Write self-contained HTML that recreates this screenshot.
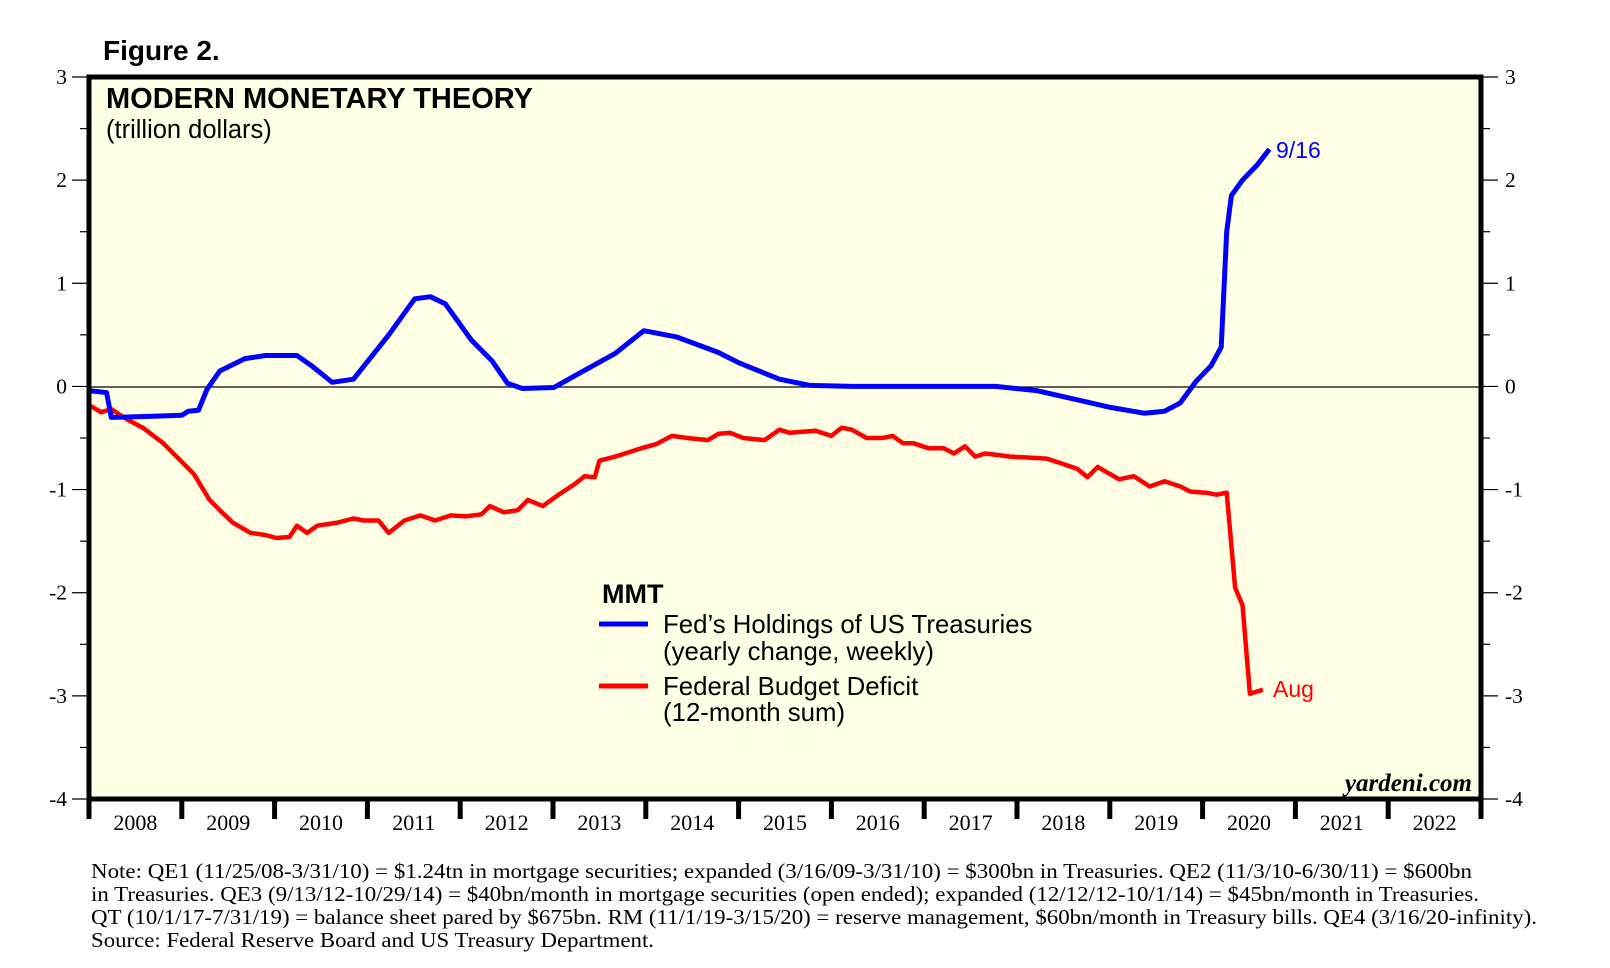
<!DOCTYPE html>
<html><head><meta charset="utf-8"><style>
html,body{margin:0;padding:0;background:#fff;}
svg{display:block;}
.sans{font-family:"Liberation Sans",sans-serif;}
.serif{font-family:"Liberation Serif",serif;}
</style></head><body>
<svg id="chart" width="1610" height="968" viewBox="0 0 1610 968" xmlns="http://www.w3.org/2000/svg">
<rect x="89" y="77" width="1392" height="722" fill="#ffffe6"/>
<line x1="89" x2="1481" y1="387" y2="387" stroke="#000" stroke-width="1.2"/>
<g id="yticks"></g>
<g id="xticks"></g>
<g id="series"></g>
<rect x="89" y="77" width="1392" height="722" fill="none" stroke="#000" stroke-width="5"/>
<text x="103" y="60" class="sans" font-size="28" font-weight="bold">Figure 2.</text>
<text x="106" y="108" class="sans" font-size="29" font-weight="bold">MODERN MONETARY THEORY</text>
<text x="106" y="138" class="sans" font-size="25.5">(trillion dollars)</text>
<g>
<text x="602" y="603" class="sans" font-size="27" font-weight="bold">MMT</text>
<line x1="599" x2="648" y1="624" y2="624" stroke="#0000ff" stroke-width="5"/>
<text x="663" y="633" class="sans" font-size="25.8">Fed’s Holdings of US Treasuries</text>
<text x="663" y="660" class="sans" font-size="25.8">(yearly change, weekly)</text>
<line x1="599" x2="648" y1="686" y2="686" stroke="#ff0000" stroke-width="5"/>
<text x="663" y="695" class="sans" font-size="25.8">Federal Budget Deficit</text>
<text x="663" y="721" class="sans" font-size="25.8">(12-month sum)</text>
</g>
<text x="1276" y="158" class="sans" font-size="23" fill="#0000ff">9/16</text>
<text x="1273" y="697" class="sans" font-size="23" fill="#ff0000">Aug</text>
<text x="1472" y="791" class="serif" font-size="25" font-weight="bold" font-style="italic" text-anchor="end">yardeni.com</text>
<g class="serif" font-size="21">
<text x="91" y="878" textLength="1381" lengthAdjust="spacingAndGlyphs">Note: QE1 (11/25/08-3/31/10) = $1.24tn in mortgage securities; expanded (3/16/09-3/31/10) = $300bn in Treasuries. QE2 (11/3/10-6/30/11) = $600bn</text>
<text x="91" y="901" textLength="1388" lengthAdjust="spacingAndGlyphs">in Treasuries. QE3 (9/13/12-10/29/14) = $40bn/month in mortgage securities (open ended); expanded (12/12/12-10/1/14) = $45bn/month in Treasuries.</text>
<text x="91" y="924" textLength="1446" lengthAdjust="spacingAndGlyphs">QT (10/1/17-7/31/19) = balance sheet pared by $675bn. RM (11/1/19-3/15/20) = reserve management, $60bn/month in Treasury bills. QE4 (3/16/20-infinity).</text>
<text x="91" y="947" textLength="563" lengthAdjust="spacingAndGlyphs">Source: Federal Reserve Board and US Treasury Department.</text>
</g>
</svg>
<script>
const yTicks = [3, 2, 1, 0, -1, -2, -3, -4];
const yTickLabels = ["3", "2", "1", "0", "-1", "-2", "-3", "-4"];
const years = [2008, 2009, 2010, 2011, 2012, 2013, 2014, 2015, 2016, 2017, 2018, 2019, 2020, 2021, 2022];
const fedDates = [2008.00,2008.19,2008.24,2008.69,2009.00,2009.07,2009.18,2009.27,2009.41,2009.68,2009.90,2010.24,2010.40,2010.62,2010.85,2011.01,2011.23,2011.51,2011.68,2011.84,2012.12,2012.34,2012.51,2012.67,2013.01,2013.23,2013.67,2013.98,2014.33,2014.78,2015.00,2015.44,2015.77,2016.22,2017.77,2018.21,2018.65,2018.99,2019.37,2019.59,2019.76,2019.93,2020.09,2020.20,2020.26,2020.31,2020.43,2020.59,2020.72];
const fedValues = [-0.04,-0.06,-0.30,-0.29,-0.28,-0.24,-0.23,-0.03,0.15,0.27,0.30,0.30,0.20,0.04,0.07,0.25,0.50,0.85,0.87,0.80,0.45,0.25,0.03,-0.02,-0.01,0.10,0.32,0.54,0.48,0.33,0.23,0.07,0.01,0.00,0.00,-0.04,-0.13,-0.20,-0.26,-0.24,-0.16,0.05,0.20,0.38,1.50,1.85,2.00,2.15,2.30];
const defDates = [2008.00,2008.13,2008.24,2008.41,2008.58,2008.80,2009.02,2009.13,2009.30,2009.41,2009.55,2009.74,2009.90,2010.02,2010.16,2010.24,2010.35,2010.46,2010.68,2010.85,2010.96,2011.12,2011.23,2011.40,2011.57,2011.73,2011.90,2012.06,2012.23,2012.32,2012.47,2012.62,2012.73,2012.89,2013.06,2013.23,2013.34,2013.45,2013.50,2013.67,2013.95,2014.11,2014.28,2014.45,2014.67,2014.78,2014.91,2015.05,2015.28,2015.44,2015.55,2015.83,2016.00,2016.11,2016.22,2016.38,2016.55,2016.66,2016.77,2016.88,2017.05,2017.21,2017.32,2017.44,2017.55,2017.66,2017.93,2018.32,2018.49,2018.65,2018.76,2018.87,2019.10,2019.26,2019.43,2019.59,2019.76,2019.87,2020.04,2020.15,2020.26,2020.35,2020.43,2020.51,2020.65];
const defValues = [-0.18,-0.25,-0.22,-0.32,-0.40,-0.55,-0.75,-0.85,-1.10,-1.20,-1.32,-1.42,-1.44,-1.47,-1.46,-1.35,-1.42,-1.35,-1.32,-1.28,-1.30,-1.30,-1.42,-1.30,-1.25,-1.30,-1.25,-1.26,-1.24,-1.16,-1.22,-1.20,-1.10,-1.16,-1.05,-0.95,-0.87,-0.88,-0.72,-0.68,-0.60,-0.56,-0.48,-0.50,-0.52,-0.46,-0.45,-0.50,-0.52,-0.42,-0.45,-0.43,-0.48,-0.40,-0.42,-0.50,-0.50,-0.48,-0.55,-0.55,-0.60,-0.60,-0.65,-0.58,-0.68,-0.65,-0.68,-0.70,-0.75,-0.80,-0.88,-0.78,-0.90,-0.87,-0.97,-0.92,-0.97,-1.02,-1.03,-1.05,-1.03,-1.95,-2.12,-2.98,-2.94];

const NS = "http://www.w3.org/2000/svg";
const X0 = 89, X1 = 1481, Y3 = 77, Ym4 = 799;
function xScale(t){ return X0 + (t - 2008) / 15 * (X1 - X0); }
function yScale(v){ return Y3 + (3 - v) / 7 * (Ym4 - Y3); }
function mk(tag, attrs, parent){ const e = document.createElementNS(NS, tag); for (const k in attrs) e.setAttribute(k, attrs[k]); parent.appendChild(e); return e; }

const yg = document.getElementById('yticks');
for (let i = 0; i < yTicks.length; i++) {
  const y = yScale(yTicks[i]);
  const l1 = mk('line', {x1: 72, x2: 89, y1: y, y2: y, stroke: '#000', 'stroke-width': 1.2}, yg);
  
  
  const l2 = mk('line', {x1: 1481, x2: 1498, y1: y, y2: y, stroke: '#000', 'stroke-width': 1.2}, yg);
  
  
  const t1 = mk('text', {x: 67, y: y + 7, 'text-anchor': 'end', 'font-size': 21.5, 'font-family': 'Liberation Serif, serif'}, yg);
  t1.textContent = yTickLabels[i];
  
  
  const t2 = mk('text', {x: 1505, y: y + 7, 'font-size': 21.5, 'font-family': 'Liberation Serif, serif'}, yg);
  t2.textContent = yTickLabels[i];
  
  
  if (i < yTicks.length - 1) {
    const ym = yScale(yTicks[i] - 0.5);
    const m1 = mk('line', {x1: 80, x2: 89, y1: ym, y2: ym, stroke: '#000', 'stroke-width': 1.2}, yg);
    
    
    const m2 = mk('line', {x1: 1481, x2: 1490, y1: ym, y2: ym, stroke: '#000', 'stroke-width': 1.2}, yg);
    
    
  }
}
const xg = document.getElementById('xticks');
for (let i = 0; i <= years.length; i++) {
  const x = xScale(2008 + i);
  const tk = mk('line', {x1: x, x2: x, y1: 799, y2: 819, stroke: '#000', 'stroke-width': 5}, xg);
  
  
  if (i < years.length) {
    const t = mk('text', {x: xScale(years[i] + 0.5), y: 830, 'text-anchor': 'middle', 'font-size': 22, 'font-family': 'Liberation Serif, serif'}, xg);
    t.textContent = String(years[i]);
    
    
  }
}
const sg = document.getElementById('series');
function pathFor(ds, vs){ return ds.map((d, i) => (i ? 'L' : 'M') + xScale(d).toFixed(1) + ',' + yScale(vs[i]).toFixed(1)).join(' '); }
const pr = mk('path', {d: pathFor(defDates, defValues), fill: 'none', stroke: '#ff0000', 'stroke-width': 4.5, 'stroke-linejoin': 'round'}, sg);


const pb = mk('path', {d: pathFor(fedDates, fedValues), fill: 'none', stroke: '#0000ff', 'stroke-width': 5, 'stroke-linejoin': 'round'}, sg);


</script>
</body></html>
